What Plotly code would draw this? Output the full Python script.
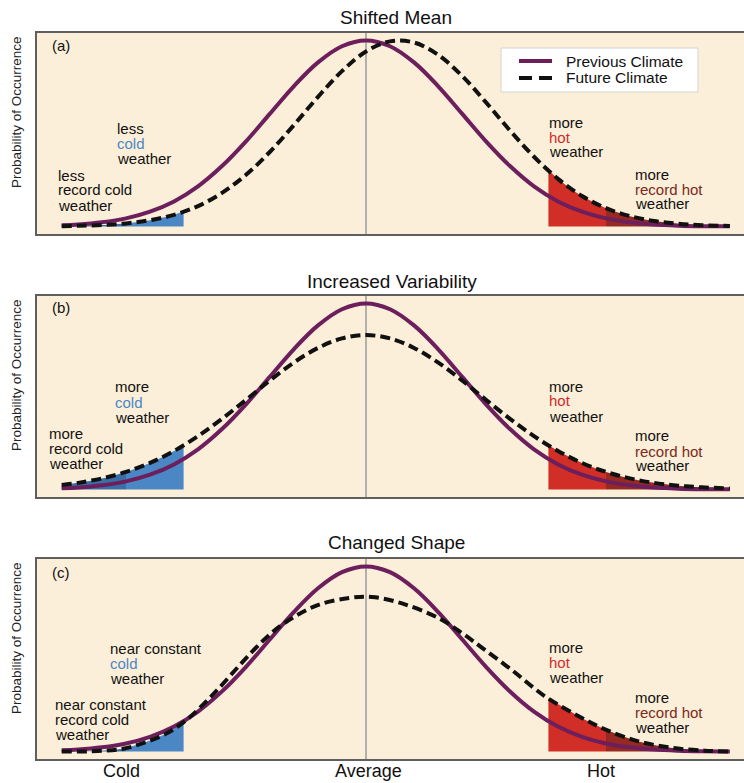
import numpy as np
import plotly.graph_objects as go

W, H = 744, 783
FONT = "Liberation Sans, Arial, sans-serif"

# ---------------- data (x in std-dev units, y relative to previous-climate peak)
X_GRID = [-3.17, -3.0, -2.75, -2.5, -2.25, -2.0, -1.75, -1.5, -1.25, -1.0, -0.75, -0.5, -0.25, 0.0,
          0.25, 0.5, 0.75, 1.0, 1.25, 1.5, 1.75, 2.0, 2.25, 2.5, 2.75, 3.0, 3.25, 3.5, 3.79]
PREVIOUS = [0.007, 0.011, 0.023, 0.044, 0.080, 0.135, 0.216, 0.325, 0.458, 0.607, 0.755, 0.882, 0.969, 1.0,
            0.969, 0.882, 0.755, 0.607, 0.458, 0.325, 0.216, 0.135, 0.080, 0.044, 0.023, 0.011, 0.005, 0.002, 0.001]
FUTURE_A = [0.002, 0.004, 0.008, 0.017, 0.034, 0.063, 0.110, 0.181, 0.278, 0.402, 0.546, 0.697, 0.835, 0.941,
            0.995, 0.989, 0.923, 0.810, 0.667, 0.516, 0.375, 0.256, 0.164, 0.099, 0.056, 0.030, 0.015, 0.007, 0.003]
FUTURE_B = [0.025, 0.036, 0.060, 0.095, 0.143, 0.207, 0.287, 0.380, 0.482, 0.587, 0.683, 0.761, 0.812, 0.830,
            0.812, 0.761, 0.683, 0.587, 0.482, 0.380, 0.287, 0.207, 0.143, 0.095, 0.060, 0.036, 0.021, 0.012, 0.006]
X_C = [-3.17, -2.8, -2.53, -2.3, -2.07, -1.86, -1.59, -1.31, -1.07, -0.86, -0.51, -0.17, 0.06, 0.375,
       0.76, 1.0, 1.21, 1.52, 1.86, 2.22, 2.49, 2.84, 3.19, 3.53, 3.79]
FUTURE_C = [0.0, 0.003, 0.015, 0.05, 0.10, 0.175, 0.31, 0.47, 0.60, 0.69, 0.79, 0.83, 0.835, 0.80,
            0.72, 0.64, 0.56, 0.44, 0.30, 0.19, 0.12, 0.055, 0.02, 0.005, 0.0]

COLD_EDGE, RECORD_COLD_EDGE = -1.9, -2.5
HOT_EDGE, RECORD_HOT_EDGE = 1.9, 2.5

TITLES = ["Shifted Mean", "Increased Variability", "Changed Shape"]
LETTERS = ["(a)", "(b)", "(c)"]
COLD_TEXT = [["less", "cold", "weather"], ["more", "cold", "weather"], ["near constant", "cold", "weather"]]
RCOLD_TEXT = [["less", "record cold", "weather"], ["more", "record cold", "weather"],
              ["near constant", "record cold", "weather"]]
HOT_TEXT = [["more", "hot", "weather"]] * 3
RHOT_TEXT = [["more", "record hot", "weather"]] * 3
X_LABELS = ["Cold", "Average", "Hot"]
Y_LABEL = "Probability of Occurrence"
LEGEND_NAMES = ["Previous Climate", "Future Climate"]

panels = [
    (X_GRID, PREVIOUS, X_GRID, FUTURE_A),
    (X_GRID, PREVIOUS, X_GRID, FUTURE_B),
    (X_GRID, PREVIOUS, X_C, FUTURE_C),
]

# ---------------- layout geometry (pixels)
PANEL_TOP = [33, 296, 559]
PANEL_BOT = [234, 497, 759]
LEFT_PX, ZERO_PX, PX_PER_UNIT = 37, 366, 96.0
XR = [(LEFT_PX - ZERO_PX) / PX_PER_UNIT, (W - ZERO_PX) / PX_PER_UNIT]
YR = [-0.04, 1.04]

PURPLE = "#6c1f5c"
BLUE, DBLUE = "#4b87c4", "#3a6ea6"
RED, DRED = "#d12e27", "#962a22"
BEIGE = "#fcefd9"
TXT = "#111111"
DASH = "10px,5px"


def px(x):
    return x / W


def py(y):
    return 1 - y / H


def region(xs, ys, lo, hi):
    xs = np.asarray(xs, float)
    ys = np.asarray(ys, float)
    lo = max(lo, xs[0])
    hi = min(hi, xs[-1])
    m = (xs > lo) & (xs < hi)
    fx = [lo] + list(xs[m]) + [hi]
    fy = [float(np.interp(lo, xs, ys))] + list(ys[m]) + [float(np.interp(hi, xs, ys))]
    return fx, fy


fig = go.Figure()
annotations = []
shapes = []

for i, (xp, yp, xf, yf) in enumerate(panels):
    xa = "x" if i == 0 else f"x{i+1}"
    ya = "y" if i == 0 else f"y{i+1}"
    for lo, hi, col in [(-9, RECORD_COLD_EDGE, DBLUE), (RECORD_COLD_EDGE, COLD_EDGE, BLUE),
                        (HOT_EDGE, RECORD_HOT_EDGE, RED), (RECORD_HOT_EDGE, 9, DRED)]:
        fx, fy = region(xf, yf, lo, hi)
        fig.add_trace(go.Scatter(x=fx, y=fy, mode="lines", line=dict(width=0, shape="spline", color=col),
                                 fill="tozeroy", fillcolor=col, showlegend=False, hoverinfo="skip",
                                 xaxis=xa, yaxis=ya))
    fig.add_trace(go.Scatter(x=xp, y=yp, mode="lines", name=LEGEND_NAMES[0],
                             line=dict(color=PURPLE, width=4, shape="spline"),
                             showlegend=False, xaxis=xa, yaxis=ya))
    fig.add_trace(go.Scatter(x=xf, y=yf, mode="lines", name=LEGEND_NAMES[1],
                             line=dict(color=TXT, width=4, shape="spline", dash=DASH),
                             showlegend=False, xaxis=xa, yaxis=ya))
    shapes.append(dict(type="line", xref=xa, yref=f"{ya} domain", x0=0, x1=0, y0=0, y1=1,
                       line=dict(color="#9b9b9b", width=1.5), layer="below"))

    annotations.append(dict(text=TITLES[i], x=px([396, 392, 396][i]), y=py([18, 281, 542][i]),
                            xref="paper", yref="paper", showarrow=False,
                            font=dict(size=19, color=TXT, family=FONT), xanchor="center", yanchor="middle"))
    annotations.append(dict(text=LETTERS[i], x=px(50), y=py([45, 307, 572][i]), xref="paper", yref="paper",
                            showarrow=False, font=dict(size=15, color=TXT, family=FONT),
                            xanchor="left", yanchor="middle"))
    annotations.append(dict(text=Y_LABEL, x=px(16), y=py([112, 375, 638][i]), xref="paper", yref="paper",
                            showarrow=False, textangle=-90, font=dict(size=13.5, color="#222", family=FONT),
                            xanchor="center", yanchor="middle"))

    groups = [
        (COLD_TEXT[i], [(116, 128), (114, 387), (109, 648)][i], BLUE),
        (RCOLD_TEXT[i], [(57, 175), (48, 433), (54, 704)][i], TXT),
        (HOT_TEXT[i], [(548, 122), (548, 386), (548, 647)][i], "#d42a2a"),
        (RHOT_TEXT[i], [(634, 174), (634, 436), (634, 697)][i], "#7a2a1a"),
    ]
    for lines, (gx, gy), mcol in groups:
        for k, t in enumerate(lines):
            col = mcol if k == 1 else TXT
            annotations.append(dict(text=t, x=px(gx), y=py(gy + 15 * k), xref="paper", yref="paper",
                                    showarrow=False, font=dict(size=15, color=col, family=FONT),
                                    xanchor="left", yanchor="middle", borderpad=0))

for t, x in zip(X_LABELS, [121, 368, 601]):
    annotations.append(dict(text=t, x=px(x), y=py(771), xref="paper", yref="paper", showarrow=False,
                            font=dict(size=18, color=TXT, family=FONT), xanchor="center", yanchor="middle",
                            borderpad=0))

# legend box drawn in panel (a)
shapes.append(dict(type="rect", xref="paper", yref="paper", x0=px(501), x1=px(698), y0=py(92), y1=py(48),
                   fillcolor="white", line=dict(color="#d4d4d4", width=1), layer="above"))
shapes.append(dict(type="line", xref="paper", yref="paper", x0=px(519), x1=px(552), y0=py(61), y1=py(61),
                   line=dict(color=PURPLE, width=4), layer="above"))
shapes.append(dict(type="line", xref="paper", yref="paper", x0=px(519), x1=px(552), y0=py(78), y1=py(78),
                   line=dict(color=TXT, width=4, dash="13px,7px"), layer="above"))
for name, yy in zip(LEGEND_NAMES, [61, 78]):
    annotations.append(dict(text=name, x=px(564), y=py(yy), xref="paper", yref="paper", showarrow=False,
                            font=dict(size=15.5, color=TXT, family=FONT), xanchor="left", yanchor="middle"))

layout = dict(
    width=W, height=H, margin=dict(l=0, r=0, t=0, b=0),
    paper_bgcolor="white", plot_bgcolor=BEIGE,
    annotations=annotations, shapes=shapes, showlegend=False,
    font=dict(family=FONT),
)
for i in range(3):
    xk = "xaxis" if i == 0 else f"xaxis{i+1}"
    yk = "yaxis" if i == 0 else f"yaxis{i+1}"
    ya = "y" if i == 0 else f"y{i+1}"
    xa = "x" if i == 0 else f"x{i+1}"
    layout[xk] = dict(domain=[LEFT_PX / W, 1], range=XR, anchor=ya, showgrid=False, zeroline=False,
                      showticklabels=False, ticks="", showline=True, mirror=True, linecolor="#5f5f5f",
                      linewidth=2, fixedrange=True)
    layout[yk] = dict(domain=[py(PANEL_BOT[i]), py(PANEL_TOP[i])], range=YR, anchor=xa, showgrid=False,
                      zeroline=False, showticklabels=False, ticks="", showline=True, mirror=False,
                      linecolor="#5f5f5f", linewidth=2, fixedrange=True)
fig.update_layout(**layout)
fig.write_html("out.html", config={"displayModeBar": False},
               post_script="document.body.style.margin='0';document.body.style.overflow='hidden';")
